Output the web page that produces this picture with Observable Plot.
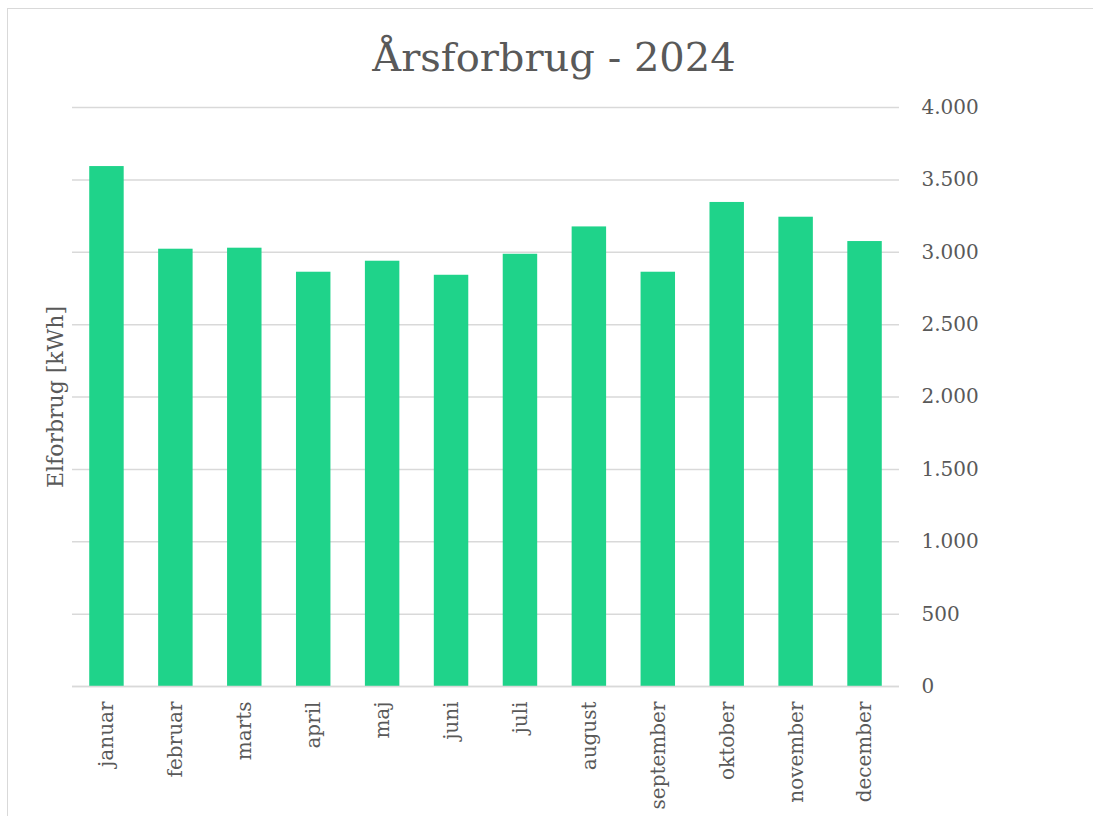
<!DOCTYPE html>
<html>
<head>
<meta charset="utf-8">
<script src="https://cdn.jsdelivr.net/npm/d3@7"></script>
<script src="https://cdn.jsdelivr.net/npm/@observablehq/plot@0.6"></script>
<style>
  html, body { margin: 0; padding: 0; background: #fff; overflow: hidden; }
  #wrap { position: relative; width: 1093px; height: 816px; overflow: hidden; }
  #frame { position: absolute; left: 7px; top: 8px; width: 1100px; height: 900px; border: 1.5px solid #d9d9d9; box-sizing: border-box; }
  #title { position: absolute; left: 0; width: 1108px; top: 33px; text-align: center;
           font-family: "DejaVu Serif", serif; font-size: 40px; color: #595959; line-height: 1.2; }
  #chart { position: absolute; left: 0; top: 0; }
</style>
</head>
<body>
<div id="wrap">
  <div id="frame"></div>
  <div id="title">Årsforbrug - 2024</div>
  <div id="chart"></div>
</div>
<script>
const months = ["januar", "februar", "marts", "april", "maj", "juni", "juli", "august", "september", "oktober", "november", "december"];
const consumption = [3592, 3021, 3028, 2862, 2938, 2841, 2986, 3175, 2862, 3344, 3242, 3074];
const yTicks = [0, 500, 1000, 1500, 2000, 2500, 3000, 3500, 4000];
const yLabel = "Elforbrug [kWh]";

const data = months.map((m, i) => ({month: m, value: consumption[i]}));
const fmt = d3.formatLocale({decimal: ",", thousands: ".", grouping: [3], currency: ["", " kr."]}).format(",d");

const plot = Plot.plot({
  width: 1093,
  height: 816,
  marginLeft: 72,
  marginRight: 194,
  marginTop: 107,
  marginBottom: 130,
  style: {fontFamily: "DejaVu Serif, serif", fontSize: "20px", color: "#595959", background: "transparent"},
  x: {domain: months, paddingInner: 0.5, paddingOuter: 0.25, round: false, label: null},
  y: {domain: [0, 4000], label: null},
  marks: [
    Plot.gridY(yTicks, {stroke: "#d9d9d9", strokeWidth: 1.5, strokeOpacity: 1}),
    Plot.barY(data, {x: "month", y: "value", fill: "#1fd38a"}),
    Plot.ruleY([0], {stroke: "#d9d9d9", strokeWidth: 1.5}),
    Plot.axisY(yTicks, {anchor: "right", tickSize: 0, tickPadding: 22, tickFormat: fmt, fill: "#595959", fontSize: 20, label: null}),
    Plot.axisX({anchor: "bottom", tickSize: 0, tickPadding: 15, tickRotate: -90, fill: "#595959", fontSize: 20, label: null}),
    Plot.text([yLabel], {frameAnchor: "left", dx: -17, rotate: -90, fill: "#595959", fontSize: 22, text: d => d, textAnchor: "middle"})
  ]
});
document.getElementById("chart").appendChild(plot);
</script>
</body>
</html>
